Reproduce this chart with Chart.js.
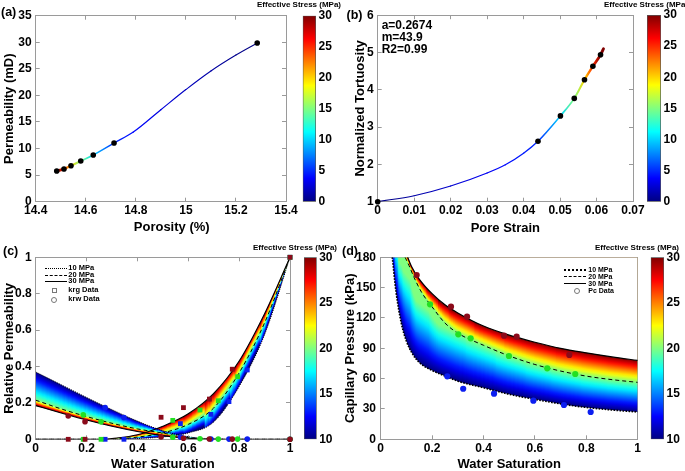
<!DOCTYPE html>
<html>
<head>
<meta charset="utf-8">
<script src="https://cdn.jsdelivr.net/npm/chart.js@4.4.1/dist/chart.umd.min.js"></script>
<style>
  body { margin: 0; background: #fff; }
  #fig { position: relative; width: 685px; height: 471px; overflow: hidden;
         font-family: 'Liberation Sans', Arial, sans-serif; font-weight: bold; color: #000; }
  #fig canvas { position: absolute; }
  .t { position: absolute; white-space: nowrap; line-height: 1; }
  .lab { font-size: 12.5px; }
  .cbt { font-size: 8px; }
  .ann { font-size: 12px; }
  .lgc { font-size: 7.5px; }
  .lgd { font-size: 7px; }
  .ln { position: absolute; width: 22px; height: 0; border-top: 1px solid #000; }
  .mk { position: absolute; border: 1px solid #777; }
</style>
</head>
<body>
<div id="fig">
  <canvas id="chartA" width="304" height="236" style="left:0;top:0"></canvas>
  <canvas id="chartB" width="311" height="236" style="left:340px;top:0"></canvas>
  <canvas id="chartC" width="310" height="235" style="left:0;top:236px"></canvas>
  <canvas id="chartD" width="318" height="235" style="left:340px;top:236px"></canvas>
  <canvas id="barA" width="40" height="236" style="left:300px;top:0"></canvas>
  <canvas id="barB" width="40" height="236" style="left:645px;top:0"></canvas>
  <canvas id="barC" width="40" height="235" style="left:300px;top:236px"></canvas>
  <canvas id="barD" width="40" height="235" style="left:645px;top:236px"></canvas>

  <div class="t lab" style="left:1px;top:6.3px">(a)</div>
  <div class="t lab" style="left:346.5px;top:8.7px">(b)</div>
  <div class="t lab" style="left:3px;top:244.5px">(c)</div>
  <div class="t lab" style="left:342px;top:244.5px">(d)</div>

  <div class="t cbt" style="left:257px;top:0.5px">Effective Stress (MPa)</div>
  <div class="t cbt" style="left:604px;top:0.5px">Effective Stress (MPa)</div>
  <div class="t cbt" style="left:253px;top:244.3px">Effective Stress (MPa)</div>
  <div class="t cbt" style="left:595px;top:244.3px">Effective Stress (MPa)</div>

  <div class="t ann" style="left:381.7px;top:19px">a=0.2674</div>
  <div class="t ann" style="left:381.7px;top:30.7px">m=43.9</div>
  <div class="t ann" style="left:381.7px;top:43.3px">R2=0.99</div>

  <!-- legend (c) -->
  <div class="ln" style="left:45px;top:268px;border-top-style:dotted"></div>
  <div class="ln" style="left:45px;top:274.5px;border-top-style:dashed"></div>
  <div class="ln" style="left:45px;top:281px"></div>
  <div class="mk" style="left:51.5px;top:287.5px;width:3px;height:3px"></div>
  <div class="mk" style="left:51px;top:296.5px;width:4px;height:4px;border-radius:50%"></div>
  <div class="t lgc" style="left:68.3px;top:264.3px">10 MPa</div>
  <div class="t lgc" style="left:68.3px;top:270.8px">20 MPa</div>
  <div class="t lgc" style="left:68.3px;top:277.3px">30 MPa</div>
  <div class="t lgc" style="left:68.3px;top:285.8px">krg Data</div>
  <div class="t lgc" style="left:68.3px;top:294.8px">krw Data</div>

  <!-- legend (d) -->
  <div class="ln" style="left:564px;top:269px;border-top:2px dotted #000"></div>
  <div class="ln" style="left:564px;top:276px;border-top-style:dashed"></div>
  <div class="ln" style="left:564px;top:283px"></div>
  <div class="mk" style="left:573.5px;top:287.5px;width:4px;height:4px;border-radius:50%"></div>
  <div class="t lgd" style="left:588.3px;top:266px">10 MPa</div>
  <div class="t lgd" style="left:588.3px;top:272.8px">20 MPa</div>
  <div class="t lgd" style="left:588.3px;top:279.8px">30 MPa</div>
  <div class="t lgd" style="left:588.3px;top:286.5px">Pc Data</div>
</div>

<script>
// ---- (a) permeability vs porosity ----
const porosityPts = [14.484, 14.513, 14.541, 14.580, 14.630, 14.713, 15.285];
const permPts = [5.78, 6.15, 6.77, 7.66, 8.79, 11.04, 29.86];
const porosityCurve = [14.484, 14.513, 14.541, 14.580, 14.630, 14.713, 14.79, 14.9, 15.0, 15.1, 15.2, 15.285];
const permCurve = [5.78, 6.15, 6.77, 7.66, 8.79, 11.04, 13.1, 17.3, 21.1, 24.6, 27.6, 29.86];
const stressCurveA = [30, 25, 20, 15, 10, 5, 4, 2.8, 1.9, 1.1, 0.4, 0];
const porosityTicks = [14.4, 14.6, 14.8, 15, 15.2, 15.4];
const permTicks = [0, 5, 10, 15, 20, 25, 30, 35];

// ---- (b) normalized tortuosity vs pore strain ----
const strainPts = [0, 0.04395, 0.0501, 0.0539, 0.0567, 0.0590, 0.0611];
const tortPts = [1.0, 2.62, 3.30, 3.77, 4.27, 4.63, 4.94];
const strainCurve = [0, 0.01, 0.02, 0.03, 0.035, 0.04, 0.04395, 0.0501, 0.0539, 0.0567, 0.0590, 0.0611, 0.0619];
const tortCurve = [1.0, 1.16, 1.42, 1.77, 1.99, 2.30, 2.62, 3.30, 3.77, 4.27, 4.63, 4.94, 5.10];
const stressCurveB = [0, 1.1, 2.3, 3.4, 4.0, 4.5, 5, 10, 15, 20, 25, 30, 30];
const strainTicks = [0, 0.01, 0.02, 0.03, 0.04, 0.05, 0.06, 0.07];
const tortTicks = [1, 2, 3, 4, 5, 6];

// ---- (c) relative permeability vs water saturation ----
const swDown = [0, 0.1, 0.2, 0.3, 0.4, 0.5, 0.6, 0.7, 0.8, 0.9, 1.0];
const krwDown10 = [0.37, 0.30, 0.23, 0.163, 0.10, 0.047, 0.014, 0.002, 0, 0, 0];
const krwDown20 = [0.215, 0.167, 0.125, 0.088, 0.057, 0.034, 0.010, 0.001, 0, 0, 0];
const krwDown30 = [0.185, 0.145, 0.106, 0.072, 0.043, 0.020, 0.006, 0, 0, 0, 0];
const swUp = [0, 0.1, 0.2, 0.27, 0.3, 0.4, 0.5, 0.6, 0.7, 0.8, 0.9, 1.0];
const krgUp10 = [0, 0, 0, 0, 0, 0.004, 0.013, 0.035, 0.095, 0.29, 0.575, 1];
const krgUp20 = [0, 0, 0, 0, 0.001, 0.012, 0.035, 0.082, 0.172, 0.365, 0.64, 1];
const krgUp30 = [0, 0, 0, 0, 0.004, 0.025, 0.072, 0.14, 0.252, 0.43, 0.69, 1];
const swData30 = [0.128, 0.194, 0.493, 0.581, 0.683, 0.773, 1.0];
const swData20 = [0.187, 0.257, 0.539, 0.646, 0.718, 0.794, 1.0];
const swData10 = [0.273, 0.347, 0.569, 0.689, 0.760, 0.832, 1.0];
const krgData30 = [0, 0, 0.121, 0.174, 0.221, 0.385, 1.0];
const krgData20 = [0, 0, 0.104, 0.161, 0.212, 0.344, 1.0];
const krgData10 = [0, 0, 0.086, 0.137, 0.207, 0.381, 1.0];
const krwData30 = [0.128, 0.097, 0.013, 0.006, 0.002, 0.001, 0];
const krwData20 = [0.134, 0.096, 0.011, 0.003, 0.001, 0.001, 0];
const krwData10 = [0.174, 0.120, 0.012, 0.002, 0.001, 0.001, 0];
const unitTicks = [0, 0.2, 0.4, 0.6, 0.8, 1];

// ---- (d) capillary pressure vs water saturation ----
const swPc10 = [0.045, 0.06, 0.08, 0.1, 0.125, 0.15, 0.2, 0.25, 0.3, 0.4, 0.5, 0.6, 0.7, 0.8, 0.9, 1.0];
const pcCurve10 = [180, 145, 115, 97, 84, 76, 68, 62.6, 57.5, 51, 44.5, 39.5, 35, 31.5, 29, 27];
const swPc20 = [0.095, 0.11, 0.13, 0.16, 0.2, 0.25, 0.3, 0.4, 0.5, 0.6, 0.7, 0.8, 0.9, 1.0];
const pcCurve20 = [180, 172, 160, 145, 131, 115, 105, 93, 82.5, 74, 67.5, 62.5, 59, 56.3];
const swPc30 = [0.105, 0.12, 0.15, 0.2, 0.25, 0.3, 0.4, 0.5, 0.6, 0.7, 0.8, 0.9, 1.0];
const pcCurve30 = [180, 171, 158.5, 144, 133, 125, 112, 103, 96, 90, 85.5, 81.5, 78];
const pcSw30 = [0.140, 0.2735, 0.336, 0.480, 0.529, 0.734];
const pcData30 = [162.5, 131.2, 121.3, 102.5, 101.5, 83.4];
const pcSw20 = [0.192, 0.302, 0.350, 0.499, 0.648, 0.757];
const pcData20 = [133.5, 103.8, 99.9, 82.4, 70.2, 64.6];
const pcSw10 = [0.259, 0.321, 0.441, 0.594, 0.713, 0.817];
const pcData10 = [62.3, 50.0, 45.1, 38.2, 33.9, 27.0];
const pcTicks = [0, 30, 60, 90, 120, 150, 180];

const stressTicksA = [0, 5, 10, 15, 20, 25, 30];
const stressTicksC = [10, 15, 20, 25, 30];

const FAMILY = "'Liberation Sans', Arial, sans-serif";
const BOX = '#9a9a9a';
const tickFont = {family: FAMILY, size: 12, weight: 'bold'};
const titleFont = {family: FAMILY, size: 13, weight: 'bold', lineHeight: 1};
const RED = '#8b0a1a', GREEN = '#22e022', BLUE = '#0c1ef0';

function jet(t) {
    t = Math.min(1, Math.max(0, t));
    const f = v => Math.round(255 * Math.min(1, Math.max(0, v)));
    return 'rgb(' + f(1.5 - Math.abs(4 * t - 3)) + ',' + f(1.5 - Math.abs(4 * t - 2)) + ',' + f(1.5 - Math.abs(4 * t - 1)) + ')';
}

function xy(xs, ys) {
    return xs.map((x, i) => ({x: x, y: ys[i]}));
}

function fixedTicks(values) {
    return scale => { scale.ticks = values.map(v => ({value: v})); };
}

function tickText(v) {
    return String(+v.toFixed(4));
}

// box axes in the MATLAB style: inward ticks on all four sides
function frame(o) {
    const grid = {drawOnChartArea: false, color: BOX, tickLength: -4, lineWidth: 1};
    const border = {display: true, color: BOX, width: 1};
    const xr = {min: o.x[0], max: o.x[o.x.length - 1]};
    const yr = {min: o.y[0], max: o.y[o.y.length - 1]};
    return {
        x: Object.assign({
            type: 'linear', position: 'bottom', z: 1, grid, border,
            afterBuildTicks: fixedTicks(o.x), afterFit: s => { s.height = o.xh; },
            ticks: {font: tickFont, color: '#000', padding: 6, autoSkip: false, maxRotation: 0, callback: tickText},
            title: {display: true, text: o.xTitle, font: titleFont, color: '#000', padding: {top: 0, bottom: o.xPad}}
        }, xr),
        y: Object.assign({
            type: 'linear', position: 'left', z: 1, grid, border,
            afterBuildTicks: fixedTicks(o.y), afterFit: s => { s.width = o.yw; },
            ticks: {font: tickFont, color: '#000', padding: o.yLabelPad, autoSkip: false, callback: tickText},
            title: {display: true, text: o.yTitle, font: titleFont, color: '#000', padding: {top: o.yPad, bottom: 0}}
        }, yr),
        x2: Object.assign({
            type: 'linear', position: 'top', z: 1, grid, border, ticks: {display: false},
            afterBuildTicks: fixedTicks(o.x), afterFit: s => { s.height = 0; }
        }, xr),
        y2: Object.assign({
            type: 'linear', position: 'right', z: 1, grid, border, ticks: {display: false},
            afterBuildTicks: fixedTicks(o.y), afterFit: s => { s.width = 0; }
        }, yr)
    };
}

function baseOptions(scales, padding) {
    return {
        responsive: false,
        animation: false,
        events: [],
        layout: {padding: padding},
        plugins: {
            legend: {display: false},
            tooltip: {enabled: false},
            filler: {drawTime: 'beforeDatasetsDraw'}
        },
        scales: scales
    };
}

// colour of a fitted curve follows the stress along x
function alongCurve(xs, stress, smax) {
    return c => {
        const sx = c.chart.scales.x;
        if (!sx || !c.chart.chartArea) return jet(0);
        const x0 = sx.getPixelForValue(xs[0]);
        const x1 = sx.getPixelForValue(xs[xs.length - 1]);
        const g = c.chart.ctx.createLinearGradient(x0, 0, x1, 0);
        xs.forEach((v, i) => {
            const t = (sx.getPixelForValue(v) - x0) / (x1 - x0);
            g.addColorStop(Math.min(1, Math.max(0, t)), jet(stress[i] / smax));
        });
        return g;
    };
}

function widthBy(stress, smax) {
    return c => 1 + 1.9 * (stress[c.p0DataIndex] + stress[c.p1DataIndex]) / 2 / smax;
}

// fill pattern for the band between two stress curves: in each thin column the colour
// runs from this curve (fromT) to the nearest part of the other curve (toT)
function bandPattern(xs, ys, txs, tys, fromT, toT) {
    return c => {
        const chart = c.chart, sx = chart.scales.x, sy = chart.scales.y;
        if (!chart.chartArea || !sx || !sy) return jet(fromT);
        const px = xs.map(v => sx.getPixelForValue(v)), py = ys.map(v => sy.getPixelForValue(v));
        const qx = txs.map(v => sx.getPixelForValue(v)), qy = tys.map(v => sy.getPixelForValue(v));
        const cv = document.createElement('canvas');
        cv.width = chart.width;
        cv.height = chart.height;
        const g2 = cv.getContext('2d');
        const steps = 6;
        for (let i = 0; i < px.length - 1; i++) {
            const w = (px[i + 1] - px[i]) / steps;
            for (let s = 0; s < steps; s++) {
                const u = (s + 0.5) / steps;
                const mx = px[i] + (px[i + 1] - px[i]) * u, my = py[i] + (py[i + 1] - py[i]) * u;
                let ex = mx, ey = my, best = Infinity;
                for (let j = 0; j < qx.length - 1; j++) {
                    const dx = qx[j + 1] - qx[j], dy = qy[j + 1] - qy[j];
                    const len = dx * dx + dy * dy;
                    let v = len ? ((mx - qx[j]) * dx + (my - qy[j]) * dy) / len : 0;
                    v = Math.max(0, Math.min(1, v));
                    const cx = qx[j] + v * dx, cy = qy[j] + v * dy;
                    const d = (cx - mx) * (cx - mx) + (cy - my) * (cy - my);
                    if (d < best) { best = d; ex = cx; ey = cy; }
                }
                if (best < 0.25) {
                    g2.fillStyle = jet(fromT);
                } else {
                    const g = g2.createLinearGradient(mx, my, ex, ey);
                    for (let k = 0; k <= 10; k++) g.addColorStop(k / 10, jet(fromT + (toT - fromT) * k / 10));
                    g2.fillStyle = g;
                }
                g2.fillRect(px[i] + w * s - 0.5, 0, w + 1, cv.height);
            }
        }
        return chart.ctx.createPattern(cv, 'no-repeat');
    };
}

function band(xs, ys, fill, color, order) {
    return {data: xy(xs, ys), showLine: true, pointRadius: 0, borderWidth: 0,
            cubicInterpolationMode: 'monotone', fill: fill, backgroundColor: color, order: order};
}

function curve(xs, ys, dash, width, order) {
    return {data: xy(xs, ys), showLine: true, pointRadius: 0, borderColor: '#000', borderWidth: width,
            borderDash: dash, cubicInterpolationMode: 'monotone', fill: false, order: order};
}

function markers(xs, ys, color, style, radius, order) {
    return {data: xy(xs, ys), showLine: false, pointStyle: style, pointRadius: radius,
            pointBackgroundColor: color, pointBorderWidth: 0, clip: false, order: order};
}

// (a)
new Chart(document.getElementById('chartA'), {
    type: 'scatter',
    data: {datasets: [
        {data: xy(porosityCurve, permCurve), showLine: true, pointRadius: 0,
         borderColor: alongCurve(porosityCurve, stressCurveA, 30), borderCapStyle: 'round',
         segment: {borderWidth: widthBy(stressCurveA, 30)}, cubicInterpolationMode: 'monotone', order: 1},
        markers(porosityPts, permPts, '#000', 'circle', 2.8, 0)
    ]},
    options: baseOptions(frame({
        x: porosityTicks, y: permTicks, xTitle: '      Porosity (%)', yTitle: 'Permeability (mD)',
        xh: 34.3, yw: 35.7, xPad: 1.8, yPad: 2.5, yLabelPad: 8
    }), {top: 15.7, right: 18, left: 0, bottom: 0})
});

// (b)
new Chart(document.getElementById('chartB'), {
    type: 'scatter',
    data: {datasets: [
        {data: xy(strainCurve, tortCurve), showLine: true, pointRadius: 0,
         borderColor: alongCurve(strainCurve, stressCurveB, 30), borderCapStyle: 'round',
         segment: {borderWidth: widthBy(stressCurveB, 30)}, cubicInterpolationMode: 'monotone', order: 1},
        markers(strainPts, tortPts, '#000', 'circle', 2.8, 0)
    ]},
    options: baseOptions(frame({
        x: strainTicks, y: tortTicks, xTitle: 'Pore Strain', yTitle: 'Normalized Tortuosity',
        xh: 34.3, yw: 37.7, xPad: 1.2, yPad: 13.5, yLabelPad: 8
    }), {top: 15, right: 18, left: 0, bottom: 0})
});

// (c)
new Chart(document.getElementById('chartC'), {
    type: 'scatter',
    data: {datasets: [
        band(swDown, krwDown10, false, '#fff', 6),
        band(swDown, krwDown20, 0, bandPattern(swDown, krwDown20, swDown, krwDown10, 0.5, 0), 6),
        band(swDown, krwDown30, 1, bandPattern(swDown, krwDown30, swDown, krwDown20, 1, 0.5), 6),
        band(swUp, krgUp10, false, '#fff', 7),
        band(swUp, krgUp20, 3, bandPattern(swUp, krgUp20, swUp, krgUp10, 0.5, 0), 7),
        band(swUp, krgUp30, 4, bandPattern(swUp, krgUp30, swUp, krgUp20, 1, 0.5), 7),
        curve(swDown, krwDown10, [1, 1.2], 1, 3),
        curve(swDown, krwDown20, [4, 3], 1, 3),
        curve(swDown, krwDown30, [], 1.1, 3),
        curve(swUp, krgUp10, [1, 1.2], 1, 3),
        curve(swUp, krgUp20, [4, 3], 1, 3),
        curve(swUp, krgUp30, [], 1.1, 3),
        markers(swData10, krgData10, BLUE, 'rect', 3.4, 2),
        markers(swData20, krgData20, GREEN, 'rect', 3.4, 1),
        markers(swData30, krgData30, RED, 'rect', 3.4, 0),
        markers(swData10, krwData10, BLUE, 'circle', 2.8, 2),
        markers(swData20, krwData20, GREEN, 'circle', 2.8, 1),
        markers(swData30, krwData30, RED, 'circle', 2.8, 0)
    ]},
    options: baseOptions(frame({
        x: unitTicks, y: unitTicks, xTitle: 'Water Saturation', yTitle: 'Relative Permeability',
        xh: 31.7, yw: 35.7, xPad: 0, yPad: 2.5, yLabelPad: 8
    }), {top: 21.3, right: 20, left: 0, bottom: 0})
});

// (d) layered fills: 10 MPa up to the top, 20 MPa over it, white above 30 MPa
new Chart(document.getElementById('chartD'), {
    type: 'scatter',
    data: {datasets: [
        band(swPc10, pcCurve10, 'end', bandPattern(swPc10, pcCurve10, swPc20, pcCurve20, 0, 0.5), 7),
        band(swPc20, pcCurve20, 'end', bandPattern(swPc20, pcCurve20, swPc30, pcCurve30, 0.5, 1), 6),
        band(swPc30, pcCurve30, 'end', '#fff', 5),
        curve(swPc10, pcCurve10, [1.6, 1.4], 1.6, 3),
        curve(swPc20, pcCurve20, [4, 3], 1, 3),
        curve(swPc30, pcCurve30, [], 1.2, 3),
        markers(pcSw10, pcData10, BLUE, 'circle', 3.1, 2),
        markers(pcSw20, pcData20, GREEN, 'circle', 3.1, 1),
        markers(pcSw30, pcData30, RED, 'circle', 3.1, 0)
    ]},
    options: baseOptions(frame({
        x: unitTicks, y: pcTicks, xTitle: 'Water Saturation', yTitle: 'Capillary Pressure (kPa)',
        xh: 31.7, yw: 40.7, xPad: 0, yPad: 4.3, yLabelPad: 8.7
    }), {top: 21.3, right: 20.3, left: 0, bottom: 0})
});

// colour bars
function colorbar(id, ticks, padding, yw) {
    const lo = ticks[0], hi = ticks[ticks.length - 1];
    new Chart(document.getElementById(id), {
        type: 'bar',
        data: {labels: [''], datasets: [{
            data: [[lo, hi]],
            backgroundColor: c => {
                const a = c.chart.chartArea;
                if (!a) return jet(0.5);
                const g = c.chart.ctx.createLinearGradient(0, a.bottom, 0, a.top);
                for (let k = 0; k <= 16; k++) g.addColorStop(k / 16, jet(k / 16));
                return g;
            },
            borderColor: '#555', borderWidth: 1, borderSkipped: false,
            barPercentage: 1, categoryPercentage: 1
        }]},
        options: {
            responsive: false, animation: false, events: [],
            layout: {padding: padding},
            plugins: {legend: {display: false}, tooltip: {enabled: false}},
            scales: {
                x: {display: false},
                y: {position: 'right', min: lo, max: hi,
                    afterBuildTicks: fixedTicks(ticks), afterFit: s => { s.width = yw; },
                    grid: {display: false, drawTicks: false}, border: {display: false},
                    ticks: {font: tickFont, color: '#000', padding: 2.5, callback: tickText}}
            }
        }
    });
}

colorbar('barA', stressTicksA, {left: 2.7, top: 15.7, right: 0, bottom: 34.3}, 24);
colorbar('barB', stressTicksA, {left: 2, top: 15, right: 0, bottom: 34.3}, 24);
colorbar('barC', stressTicksC, {left: 4, top: 21.3, right: 0, bottom: 31.7}, 23.3);
colorbar('barD', stressTicksC, {left: 5.7, top: 21.3, right: 0, bottom: 31.7}, 21);
</script>
</body>
</html>
